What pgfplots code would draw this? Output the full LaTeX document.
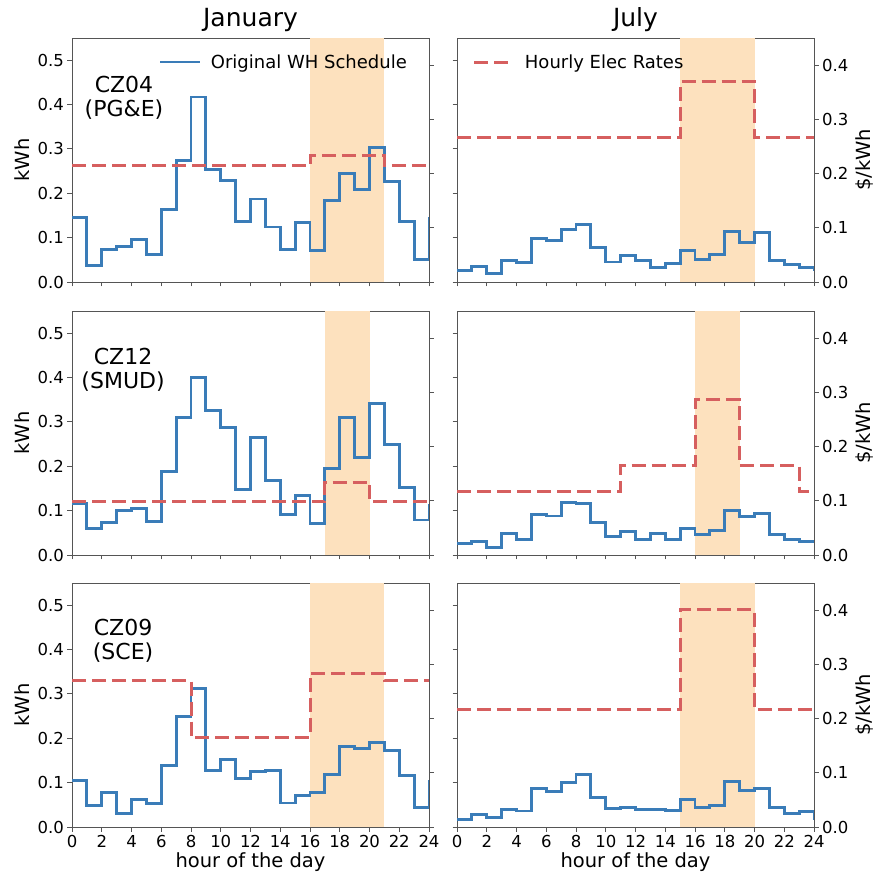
\documentclass[border=0pt]{standalone}
\usepackage{pgfplots}
\pgfplotsset{compat=1.18}
\usepackage{fontspec}
\setmainfont{DejaVu Sans}
\definecolor{cblue}{RGB}{58,124,184}
\definecolor{cred}{RGB}{214,95,95}
\definecolor{band}{RGB}{253,225,190}
\definecolor{spine}{RGB}{85,85,85}
\tikzset{czlabel/.style={align=center, font=\fontsize{22}{24}\selectfont}}
\pgfplotsset{
  base/.style={scale only axis, width=357pt, height=244pt, xmin=0, xmax=24,
    anchor=south west, xtick={0,2,4,6,8,10,12,14,16,18,20,22,24},
    tick align=outside, major tick length=4.5pt,
    axis line style={spine, line width=0.9pt},
    every tick/.style={spine, line width=0.9pt},
    tick label style={font=\fontsize{16.5}{20}\selectfont},
    /pgf/number format/assume math mode=true,
    yticklabel style={/pgf/number format/.cd, fixed, fixed zerofill, precision=1},
    xtick pos=left,
    title style={at={(axis description cs:0.5,1)}, anchor=base, yshift=5pt, font=\fontsize{25}{30}\selectfont},
    xlabel style={at={(axis description cs:0.5,0)}, anchor=base, yshift=-40pt, font=\fontsize{19.5}{23}\selectfont},
    legend style={draw=none, fill=none, inner sep=0pt, outer sep=0pt, column sep=7pt, font=\fontsize{18}{21}\selectfont},
    legend image code/.code={\draw[#1] (0pt,0pt) -- (40pt,0pt);},
  },
  kwh/.style={base, ymin=0, ymax=0.55, ytick={0,0.1,0.2,0.3,0.4,0.5}, axis y line*=left},
  rate/.style={base, ymin=0, ymax=0.45, ytick={0,0.1,0.2,0.3,0.4}, axis y line*=right, axis x line=none},
  kwhlab/.style={kwh, ylabel={kWh}, ylabel style={at={(axis description cs:0,0.5)}, anchor=base, yshift=42pt, font=\fontsize{19.5}{23}\selectfont}},
  ratelab/.style={rate, ylabel={\$/kWh}, ylabel style={at={(axis description cs:1,0.5)}, anchor=base, yshift=-56pt, font=\fontsize{19.5}{23}\selectfont}},
  blueline/.style={const plot, cblue, line width=2.9pt},
  redline/.style={const plot, cred, line width=3pt, dash pattern=on 14pt off 6pt},
  bandfill/.style={fill=band, draw=none, forget plot},
}
\begin{document}
\begin{tikzpicture}
\useasboundingbox (0,0) rectangle (876pt,876pt);
% ---------------- Row 1 January
\begin{axis}[kwhlab, at={(72pt,594pt)}, xticklabels={}, title={January},
  legend style={at={(axis description cs:0.2437,0.9016)}, anchor=west}]
\addplot[bandfill] coordinates {(16,0.55) (21,0.55)} \closedcycle;
\addplot[blueline] coordinates {(0,0.146) (1,0.037) (2,0.073) (3,0.080) (4,0.095) (5,0.061) (6,0.163) (7,0.274) (8,0.417) (9,0.253) (10,0.229) (11,0.136) (12,0.187) (13,0.124) (14,0.073) (15,0.134) (16,0.070) (17,0.184) (18,0.244) (19,0.208) (20,0.303) (21,0.227) (22,0.137) (23,0.050) (24,0.146)};
\addlegendentry{Original WH Schedule}
\node[czlabel] at (axis description cs:0.1457,0.754) {CZ04\\(PG\&E)};
\end{axis}
\begin{axis}[rate, at={(72pt,594pt)}, yticklabels={}]
\addplot[redline] coordinates {(0,0.2145) (16,0.233) (21,0.2145) (24,0.2145)};
\end{axis}
% ---------------- Row 1 July
\begin{axis}[kwh, at={(457pt,594pt)}, xticklabels={}, yticklabels={}, title={July}]
\addplot[bandfill] coordinates {(15,0.55) (20,0.55)} \closedcycle;
\addplot[blueline] coordinates {(0,0.025) (1,0.035) (2,0.020) (3,0.049) (4,0.044) (5,0.098) (6,0.093) (7,0.119) (8,0.130) (9,0.077) (10,0.045) (11,0.059) (12,0.049) (13,0.032) (14,0.042) (15,0.071) (16,0.050) (17,0.062) (18,0.113) (19,0.089) (20,0.112) (21,0.049) (22,0.039) (23,0.032) (24,0.025)};
\end{axis}
\begin{axis}[ratelab, at={(457pt,594pt)},
  legend style={at={(axis description cs:0.0447,0.9016)}, anchor=west}]
\addplot[redline] coordinates {(0,0.2667) (15,0.369) (20,0.2667) (24,0.2667)};
\addlegendentry{Hourly Elec Rates}
\end{axis}
% ---------------- Row 2 January
\begin{axis}[kwhlab, at={(72pt,321pt)}, xticklabels={}]
\addplot[bandfill] coordinates {(17,0.55) (20,0.55)} \closedcycle;
\addplot[blueline] coordinates {(0,0.116) (1,0.059) (2,0.074) (3,0.101) (4,0.104) (5,0.075) (6,0.189) (7,0.310) (8,0.400) (9,0.325) (10,0.288) (11,0.147) (12,0.265) (13,0.168) (14,0.092) (15,0.134) (16,0.071) (17,0.195) (18,0.309) (19,0.220) (20,0.342) (21,0.249) (22,0.152) (23,0.079) (24,0.116)};
\node[czlabel] at (axis description cs:0.143,0.758) {CZ12\\(SMUD)};
\end{axis}
\begin{axis}[rate, at={(72pt,321pt)}, yticklabels={}]
\addplot[redline] coordinates {(0,0.0983) (17,0.134) (20,0.0983) (24,0.0983)};
\end{axis}
% ---------------- Row 2 July
\begin{axis}[kwh, at={(457pt,321pt)}, xticklabels={}, yticklabels={}]
\addplot[bandfill] coordinates {(16,0.55) (19,0.55)} \closedcycle;
\addplot[blueline] coordinates {(0,0.026) (1,0.030) (2,0.017) (3,0.049) (4,0.035) (5,0.092) (6,0.088) (7,0.119) (8,0.116) (9,0.073) (10,0.042) (11,0.053) (12,0.035) (13,0.049) (14,0.035) (15,0.060) (16,0.047) (17,0.056) (18,0.100) (19,0.086) (20,0.094) (21,0.046) (22,0.035) (23,0.031) (24,0.026)};
\end{axis}
\begin{axis}[ratelab, at={(457pt,321pt)}]
\addplot[redline] coordinates {(0,0.118) (11,0.165) (16,0.286) (19,0.165) (23,0.118) (24,0.118)};
\end{axis}
% ---------------- Row 3 January
\begin{axis}[kwhlab, at={(72pt,49pt)}, xlabel={hour of the day}]
\addplot[bandfill] coordinates {(16,0.55) (21,0.55)} \closedcycle;
\addplot[blueline] coordinates {(0,0.1055) (1,0.048) (2,0.077) (3,0.030) (4,0.062) (5,0.053) (6,0.139) (7,0.250) (8,0.312) (9,0.127) (10,0.152) (11,0.109) (12,0.125) (13,0.128) (14,0.054) (15,0.070) (16,0.078) (17,0.118) (18,0.181) (19,0.177) (20,0.191) (21,0.173) (22,0.116) (23,0.044) (24,0.1055)};
\node[czlabel] at (axis description cs:0.143,0.762) {CZ09\\(SCE)};
\end{axis}
\begin{axis}[rate, at={(72pt,49pt)}, yticklabels={}]
\addplot[redline] coordinates {(0,0.270) (8,0.165) (16,0.283) (21,0.270) (24,0.270)};
\end{axis}
% ---------------- Row 3 July
\begin{axis}[kwh, at={(457pt,49pt)}, yticklabels={}, xlabel={hour of the day}]
\addplot[bandfill] coordinates {(15,0.55) (20,0.55)} \closedcycle;
\addplot[blueline] coordinates {(0,0.0166) (1,0.029) (2,0.022) (3,0.040) (4,0.036) (5,0.086) (6,0.080) (7,0.101) (8,0.118) (9,0.066) (10,0.041) (11,0.044) (12,0.039) (13,0.039) (14,0.038) (15,0.062) (16,0.044) (17,0.048) (18,0.102) (19,0.083) (20,0.087) (21,0.044) (22,0.030) (23,0.035) (24,0.0166)};
\end{axis}
\begin{axis}[ratelab, at={(457pt,49pt)}]
\addplot[redline] coordinates {(0,0.217) (15,0.4007) (20,0.217) (24,0.217)};
\end{axis}
\end{tikzpicture}
\end{document}
